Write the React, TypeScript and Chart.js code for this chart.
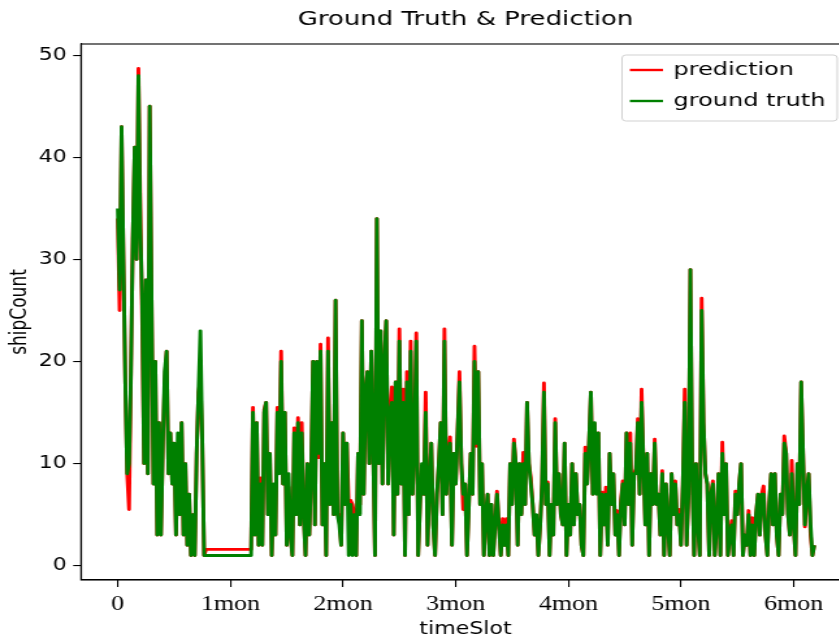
import React, { useEffect, useRef } from "react";
import { Chart, registerables } from "chart.js";
Chart.register(...registerables);

const STEP_DAYS = 0.5;

const groundTruth = [
  35, 27, 43, 30, 18, 9, 10, 19, 32, 41,
  30, 48, 33, 26, 10, 28, 9, 45, 26, 8,
  20, 3, 14, 3, 12, 19, 21, 9, 13, 8,
  12, 3, 13, 5, 14, 3, 10, 2, 7, 1,
  5, 1, 11, 17, 23, 12, 1,
  1, 1, 1, 1, 1, 1, 1, 1, 1, 1, 1, 1, 1, 1, 1, 1, 1, 1, 1, 1, 1, 1, 1, 1, 1,
  15, 3, 14, 2, 8, 2, 15, 16,
  5, 11, 1, 8, 3, 15, 9, 20, 8, 15,
  2, 9, 3, 1, 13, 5, 14, 4, 13, 5,
  1, 10, 3, 9, 20, 4, 20, 11, 21, 4,
  10, 1, 21, 6, 14, 5, 26, 5, 4, 2,
  13, 6, 12, 1, 6, 1, 5, 1, 11,
  5, 24, 7, 17, 19, 10, 21, 12, 1, 34, 10,
  23, 8, 20, 24, 8, 15, 16, 3, 18, 7,
  22, 8, 16, 1, 18, 5, 21, 7, 12, 22,
  1, 6, 10, 7, 15, 2, 8, 12, 4, 1,
  7, 10, 14, 5, 22, 7, 11, 12, 2, 11,
  8, 13, 18, 10, 7, 8, 1, 6, 11, 7,
  20, 12, 19, 6, 10, 1, 5, 7, 1, 6,
  1, 4, 7, 4, 1, 4, 2, 4, 1, 10,
  6, 12, 10, 2, 10, 5, 10, 6, 16, 10,
  8, 6, 3, 5, 1, 4, 8, 17, 6, 8,
  1, 6, 3, 14, 6, 9, 5, 4, 12, 1,
  6, 3, 10, 4, 9, 5, 6, 2, 1, 11, 8,
  12, 17, 7, 14, 7, 13, 1, 7, 4,
  7, 2, 11, 6, 9, 3, 5, 1, 6, 8,
  4, 13, 6, 12, 2, 9, 9, 14, 7, 16,
  10, 4, 11, 1, 9, 6, 12, 6, 7, 3,
  9, 1, 8, 4, 1, 9, 5, 8, 4, 5,
  2, 8, 16, 2, 7, 29, 9, 1, 10, 4, 1, 25, 14,
  9, 8, 1, 7, 8, 1, 4,
  9, 1, 11, 5, 10, 1, 3, 4, 1, 7,
  5, 8, 10, 1, 3, 2, 5, 1, 4, 1,
  5, 7, 3, 7, 7, 3, 1, 6, 9, 4,
  9, 3, 1, 7, 5, 12, 11, 5, 3, 9,
  4, 1, 10, 6, 18, 11, 4, 7, 9, 4, 1, 2,
];

const prediction = [
  34, 25, 43, 30, 18, 9, 5.5, 19, 32, 41,
  30, 48.7, 35, 24, 10, 28, 9, 45, 26, 8,
  20, 3, 14, 3, 12, 18, 21, 9, 13, 8,
  12, 3, 12, 5, 14, 3, 10, 2, 7, 1,
  5, 1, 11, 17, 18, 12, 1,
  1.6, 1.6, 1.6, 1.6, 1.6, 1.6, 1.6, 1.6, 1.6, 1.6, 1.6, 1.6, 1.6, 1.6, 1.6, 1.6, 1.6, 1.6, 1.6, 1.6, 1.6, 1.6, 1.6, 1.6, 1.6,
  15.5, 3, 14, 2, 8.6, 2, 15.3, 16,
  5, 11, 1, 7.7, 3, 15.5, 10, 21, 8, 15,
  2, 7.7, 3, 1, 13.5, 5, 14.5, 4, 14, 5,
  1, 10, 3, 9, 20, 4, 20, 10.6, 21.7, 4,
  10, 1, 22.3, 6, 14, 5, 26, 5, 5, 2,
  13, 6, 12, 6, 6.4, 6, 5, 1, 11,
  6, 24, 7, 17, 19, 10, 21, 12, 1, 34, 10,
  23, 8, 20, 24, 8, 15, 17.5, 3, 18, 7,
  23.2, 8, 17.3, 1, 19, 5, 22, 7, 12, 22.8,
  1, 6, 9.6, 7, 17, 2, 8, 12, 4, 1,
  7, 10, 14, 5, 23.2, 7, 11, 12.6, 2, 11,
  8, 13, 19, 10, 5.5, 8, 1, 6, 11, 7,
  21.5, 11.7, 19, 6, 10, 1, 4.6, 7, 1, 6,
  1, 4, 7.3, 4, 1, 4.6, 2, 4.6, 1, 10,
  6, 12.4, 10, 2, 10, 5, 11.1, 6, 16, 10,
  8.6, 6, 3, 4.4, 1, 4, 8.2, 17.9, 6, 8.2,
  1, 6, 3, 14.4, 6, 9, 5, 4, 12, 1,
  6, 3, 10, 4, 9, 5, 6, 2, 1, 11.6, 8,
  12, 17, 7, 13.9, 7.3, 13, 1, 7.2, 4,
  7.7, 2, 11, 6, 9, 3, 5.4, 1, 6.4, 8.3,
  4, 13, 6, 13, 2, 9, 9.5, 14.4, 7, 17.3,
  10, 4, 11, 1, 9, 6, 12.4, 6, 7, 3,
  9.3, 1, 8, 4, 1, 9, 5, 8.3, 4, 5.5,
  2, 8, 17.3, 2, 7, 29, 9, 1, 10, 4, 1, 26.2, 14,
  9, 8, 1, 7, 8.3, 1, 4,
  9, 1, 12.1, 5, 10, 1, 3, 4.4, 1, 7.3,
  5, 8, 10, 1, 3, 2, 5.4, 1, 4.7, 1,
  5, 7, 3, 7, 7.8, 3, 1, 6, 9, 4,
  9, 3, 1, 7, 5, 12.7, 11, 5, 3, 10.3,
  4, 1, 10, 6, 18, 11, 3.8, 7, 9, 3, 1, 2,
];

const xTickDays = [0, 30, 60, 90, 120, 150, 180];
const xTickLabels = ["0", "1mon", "2mon", "3mon", "4mon", "5mon", "6mon"];
const yTickValues = [0, 10, 20, 30, 40, 50];
const chartTitle = "Ground Truth & Prediction";
const seriesNames = ["prediction", "ground truth"];
const seriesColors = ["#ff0000", "#008000"];

// the reference picture is stretched horizontally; draw narrow, then stretch
const SX = 1.3;
const CANVAS_W = 669;
const CANVAS_H = 642;
const LINE_W = 2.9;

export default function App() {
  const ref = useRef<HTMLCanvasElement>(null);

  useEffect(() => {
    const canvas = ref.current;
    if (!canvas) return;

    const overlay = {
      id: "overlay",
      afterDraw(chart: any) {
        const { ctx, chartArea: a } = chart;
        ctx.save();
        ctx.strokeStyle = "#000";
        ctx.lineWidth = 1.1;
        ctx.strokeRect(a.left, a.top, a.right - a.left, a.bottom - a.top);
        ctx.fillStyle = "#000";
        ctx.font = '20px "DejaVu Sans"';
        ctx.textAlign = "center";
        ctx.textBaseline = "middle";
        ctx.fillText(chartTitle, (a.left + a.right) / 2, 20);
        const bx = 478.5, by = 55, bw = 165.5, bh = 66, r = 3;
        ctx.beginPath();
        ctx.moveTo(bx + r, by);
        ctx.arcTo(bx + bw, by, bx + bw, by + bh, r);
        ctx.arcTo(bx + bw, by + bh, bx, by + bh, r);
        ctx.arcTo(bx, by + bh, bx, by, r);
        ctx.arcTo(bx, by, bx + bw, by, r);
        ctx.closePath();
        ctx.fillStyle = "rgba(255,255,255,0.8)";
        ctx.fill();
        ctx.strokeStyle = "rgba(204,204,204,0.9)";
        ctx.lineWidth = 1;
        ctx.stroke();
        const rows = [70, 101];
        seriesNames.forEach((name, k) => {
          const y = rows[k];
          ctx.strokeStyle = seriesColors[k];
          ctx.lineWidth = 2.4;
          ctx.beginPath();
          ctx.moveTo(484.5, y);
          ctx.lineTo(510, y);
          ctx.stroke();
          ctx.fillStyle = "#000";
          ctx.font = '18.5px "DejaVu Sans"';
          ctx.textAlign = "left";
          ctx.textBaseline = "middle";
          ctx.fillText(name, 518, y);
        });
        ctx.restore();
      },
    };

    const chart = new Chart(canvas, {
      type: "line",
      data: {
        datasets: [
          {
            label: seriesNames[0],
            data: prediction.map((v, i) => ({ x: i * STEP_DAYS, y: v })),
            borderColor: seriesColors[0],
            backgroundColor: seriesColors[0],
            borderWidth: LINE_W,
            pointRadius: 0,
            tension: 0,
            fill: false,
            borderJoinStyle: "round",
            order: 1,
          },
          {
            label: seriesNames[1],
            data: groundTruth.map((v, i) => ({ x: i * STEP_DAYS, y: v })),
            borderColor: seriesColors[1],
            backgroundColor: seriesColors[1],
            borderWidth: LINE_W,
            pointRadius: 0,
            tension: 0,
            fill: false,
            borderJoinStyle: "round",
            order: 0,
          },
        ],
      },
      options: {
        responsive: false,
        animation: false,
        events: [],
        layout: { padding: { top: 44, right: 15.2, left: 0, bottom: 0 } },
        plugins: {
          legend: { display: false },
          tooltip: { enabled: false },
          title: { display: false },
        },
        scales: {
          x: {
            type: "linear",
            min: -9.8,
            max: 195,
            afterBuildTicks: (s: any) => {
              s.ticks = xTickDays.map((v) => ({ value: v }));
            },
            afterFit: (s: any) => {
              s.height = 62;
            },
            ticks: {
              callback: (_v: any, i: number) => xTickLabels[i],
              font: { family: '"Liberation Serif"', size: 20 },
              color: "#000",
              padding: 6,
              maxRotation: 0,
              autoSkip: false,
            },
            grid: {
              drawOnChartArea: false,
              drawTicks: true,
              tickLength: 7,
              color: "#000",
              lineWidth: 1.1,
            },
            border: { display: true, color: "#000", width: 1.1 },
            title: {
              display: true,
              text: "timeSlot",
              font: { family: '"DejaVu Sans"', size: 17 },
              color: "#000",
              padding: { top: 0, bottom: 2 },
            },
          },
          y: {
            type: "linear",
            min: -1.4,
            max: 51.1,
            afterBuildTicks: (s: any) => {
              s.ticks = yTickValues.map((v) => ({ value: v }));
            },
            afterFit: (s: any) => {
              s.width = 62.3;
            },
            ticks: {
              callback: (v: any) => String(v),
              font: { family: '"DejaVu Sans"', size: 17 },
              color: "#000",
              padding: 5,
            },
            grid: {
              drawOnChartArea: false,
              drawTicks: true,
              tickLength: 6,
              color: "#000",
              lineWidth: 1.1,
            },
            border: { display: true, color: "#000", width: 1.1 },
            title: {
              display: true,
              text: "shipCount",
              font: { family: '"DejaVu Sans"', size: 17 },
              color: "#000",
              padding: { top: 5, bottom: 0 },
            },
          },
        },
      },
      plugins: [overlay],
    });

    return () => chart.destroy();
  }, []);

  return (
    <div
      style={{
        position: "absolute",
        left: 0,
        top: 0,
        width: 839,
        height: 642,
        overflow: "hidden",
        background: "#fff",
      }}
    >
      <div
        style={{
          width: CANVAS_W,
          height: CANVAS_H,
          transform: `scaleX(${SX})`,
          transformOrigin: "0 0",
        }}
      >
        <canvas
          ref={ref}
          width={CANVAS_W}
          height={CANVAS_H}
          style={{ display: "block", width: CANVAS_W, height: CANVAS_H }}
        />
      </div>
    </div>
  );
}
